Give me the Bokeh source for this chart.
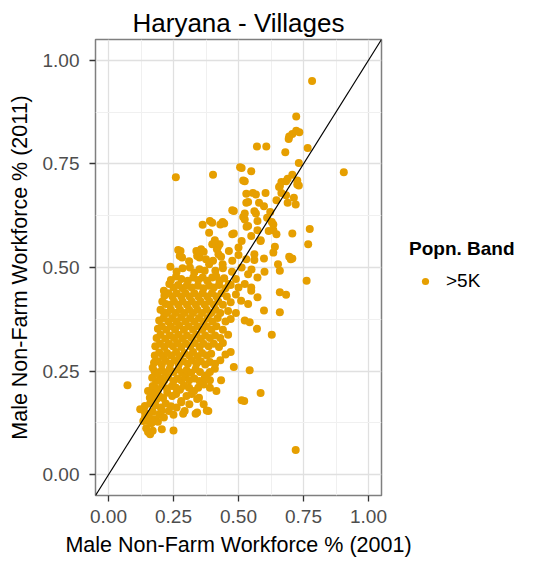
from bokeh.plotting import figure
from bokeh.models import (Range1d, FixedTicker, NumeralTickFormatter, Slope,
                          Legend, LegendItem, ColumnDataSource)
from bokeh.embed import file_html
from bokeh.resources import INLINE

title_text = "Haryana - Villages"
x_title = "Male Non-Farm Workforce % (2001)"
y_title = "Male Non-Farm Workforce % (2011)"
legend_title = "Popn. Band"
band_label = ">5K"
tick_values = [0.0, 0.25, 0.5, 0.75, 1.0]
minor_values = [0.125, 0.375, 0.625, 0.875]

# Male non-farm workforce share, 2001 (x) and 2011 (y), one entry per village
x2001 = [
    0.152, 0.170, 0.250, 0.160, 0.145, 0.205,
    0.134, 0.152, 0.177, 0.190, 0.165, 0.140,
    0.122, 0.195, 0.213, 0.232, 0.293, 0.341, 0.384, 0.287, 0.335, 0.378, 0.140, 0.170, 0.155, 0.205, 0.250,
    0.140, 0.201, 0.262, 0.311, 0.366, 0.160, 0.180, 0.220, 0.240, 0.280, 0.175,
    0.159, 0.195, 0.226, 0.280, 0.348, 0.341, 0.170, 0.185, 0.210, 0.245, 0.260, 0.300, 0.320, 0.165,
    0.152, 0.244, 0.207, 0.390, 0.415, 0.366, 0.329, 0.073, 0.180, 0.190, 0.225, 0.260, 0.275, 0.290, 0.310, 0.345, 0.170,
    0.183, 0.433, 0.200, 0.215, 0.230, 0.250, 0.265, 0.280, 0.295, 0.310, 0.330, 0.350, 0.370, 0.390, 0.168,
    0.177, 0.378, 0.409, 0.482, 0.543, 0.190, 0.205, 0.220, 0.235, 0.250, 0.268, 0.283, 0.300, 0.318, 0.335, 0.352, 0.170, 0.390,
    0.175, 0.190, 0.205, 0.220, 0.238, 0.255, 0.270, 0.287, 0.305, 0.320, 0.338, 0.355, 0.372, 0.390, 0.410, 0.430,
    0.178, 0.195, 0.210, 0.225, 0.242, 0.260, 0.275, 0.292, 0.310, 0.325, 0.342, 0.360, 0.378, 0.395, 0.450, 0.470,
    0.180, 0.198, 0.215, 0.232, 0.248, 0.265, 0.280, 0.298, 0.315, 0.332, 0.350, 0.365, 0.385, 0.405, 0.425, 0.440,
    0.185, 0.200, 0.218, 0.235, 0.252, 0.270, 0.285, 0.302, 0.320, 0.338, 0.355, 0.372, 0.390, 0.410, 0.430, 0.460,
    0.190, 0.205, 0.222, 0.240, 0.256, 0.272, 0.290, 0.308, 0.325, 0.342, 0.360, 0.378, 0.396, 0.415, 0.440, 0.571, 0.628,
    0.195, 0.212, 0.230, 0.246, 0.262, 0.280, 0.296, 0.314, 0.330, 0.348, 0.365, 0.382, 0.400, 0.420, 0.450, 0.470, 0.524, 0.543,
    0.213, 0.200, 0.225, 0.240, 0.258, 0.275, 0.292, 0.310, 0.325, 0.342, 0.360, 0.378, 0.395, 0.412, 0.430, 0.460, 0.490, 0.598, 0.659,
    0.220, 0.207, 0.235, 0.252, 0.268, 0.285, 0.302, 0.320, 0.336, 0.354, 0.370, 0.388, 0.405, 0.422, 0.440, 0.470, 0.537, 0.510,
    0.215, 0.230, 0.246, 0.262, 0.280, 0.296, 0.312, 0.330, 0.346, 0.362, 0.380, 0.398, 0.415, 0.435, 0.455, 0.490, 0.573, 0.549, 0.659, 0.683,
    0.213, 0.234, 0.250, 0.268, 0.301, 0.344, 0.387, 0.285, 0.320, 0.365, 0.405, 0.425, 0.450, 0.500, 0.549, 0.470, 0.524,
    0.326, 0.362, 0.399, 0.427, 0.463, 0.573, 0.537, 0.240, 0.260, 0.280, 0.305, 0.345, 0.380, 0.415, 0.445, 0.490, 0.762,
    0.238, 0.313, 0.350, 0.387, 0.411, 0.512, 0.659, 0.262, 0.285, 0.330, 0.370, 0.440, 0.475, 0.550, 0.600,
    0.402, 0.439, 0.476, 0.652, 0.701, 0.707, 0.598, 0.561, 0.561, 0.634, 0.274, 0.341, 0.283, 0.350, 0.433, 0.500, 0.530, 0.310, 0.375,
    0.277, 0.338, 0.356, 0.417, 0.423, 0.366, 0.421, 0.427, 0.463, 0.500, 0.399, 0.512, 0.585, 0.768, 0.640, 0.695, 0.268,
    0.476, 0.549, 0.616, 0.646, 0.707, 0.387, 0.409, 0.482, 0.634, 0.573, 0.585, 0.774, 0.531, 0.628,
    0.362, 0.399, 0.430, 0.390, 0.439, 0.445, 0.524, 0.537, 0.573, 0.610, 0.634, 0.518,
    0.482, 0.561, 0.530, 0.579, 0.598, 0.524, 0.567, 0.622, 0.476, 0.720, 0.689, 0.537, 0.646,
    0.555, 0.567, 0.604, 0.713, 0.665, 0.683, 0.530, 0.659, 0.726, 0.656, 0.732,
    0.683, 0.707, 0.524, 0.512, 0.549, 0.402, 0.259, 0.665, 0.689, 0.726, 0.518, 0.905, 0.506,
    0.732, 0.766, 0.680, 0.571, 0.607, 0.695, 0.707, 0.722, 0.734, 0.693, 0.722, 0.783,
    0.720, 0.522, 0.585, 0.512,
]
y2011 = [
    0.103, 0.106, 0.107, 0.098, 0.112, 0.110,
    0.130, 0.130, 0.134, 0.128, 0.124, 0.138,
    0.158, 0.146, 0.138, 0.154, 0.154, 0.150, 0.154, 0.147, 0.147, 0.155, 0.150, 0.152, 0.145, 0.155, 0.145,
    0.166, 0.162, 0.162, 0.170, 0.170, 0.172, 0.168, 0.172, 0.165, 0.175, 0.178,
    0.186, 0.190, 0.198, 0.178, 0.186, 0.183, 0.192, 0.182, 0.185, 0.190, 0.195, 0.190, 0.195, 0.200,
    0.202, 0.214, 0.218, 0.210, 0.202, 0.218, 0.202, 0.216, 0.210, 0.205, 0.208, 0.210, 0.205, 0.215, 0.210, 0.210, 0.214,
    0.226, 0.228, 0.232, 0.228, 0.236, 0.226, 0.232, 0.228, 0.236, 0.228, 0.232, 0.226, 0.234, 0.228, 0.234,
    0.250, 0.240, 0.256, 0.260, 0.252, 0.245, 0.252, 0.246, 0.255, 0.248, 0.254, 0.246, 0.252, 0.246, 0.255, 0.248, 0.258, 0.248,
    0.270, 0.274, 0.266, 0.275, 0.268, 0.276, 0.266, 0.274, 0.268, 0.276, 0.268, 0.274, 0.266, 0.272, 0.268, 0.276,
    0.288, 0.295, 0.286, 0.294, 0.288, 0.296, 0.286, 0.294, 0.288, 0.296, 0.286, 0.294, 0.288, 0.292, 0.290, 0.296,
    0.310, 0.316, 0.308, 0.316, 0.310, 0.318, 0.308, 0.316, 0.310, 0.318, 0.308, 0.316, 0.310, 0.316, 0.308, 0.318,
    0.330, 0.338, 0.328, 0.336, 0.330, 0.338, 0.328, 0.336, 0.330, 0.338, 0.328, 0.336, 0.330, 0.336, 0.330, 0.338,
    0.352, 0.358, 0.350, 0.358, 0.350, 0.360, 0.350, 0.358, 0.350, 0.358, 0.350, 0.358, 0.350, 0.358, 0.350, 0.352, 0.338,
    0.372, 0.378, 0.370, 0.378, 0.370, 0.380, 0.370, 0.378, 0.370, 0.378, 0.370, 0.378, 0.370, 0.378, 0.370, 0.376, 0.372, 0.368,
    0.392, 0.398, 0.390, 0.398, 0.390, 0.398, 0.390, 0.398, 0.390, 0.398, 0.390, 0.398, 0.390, 0.398, 0.390, 0.395, 0.390, 0.396, 0.392,
    0.412, 0.418, 0.410, 0.418, 0.410, 0.418, 0.410, 0.418, 0.410, 0.418, 0.410, 0.418, 0.410, 0.418, 0.410, 0.416, 0.412, 0.420,
    0.432, 0.438, 0.430, 0.438, 0.430, 0.438, 0.430, 0.438, 0.430, 0.438, 0.430, 0.438, 0.430, 0.438, 0.430, 0.435, 0.428, 0.444, 0.440, 0.434,
    0.444, 0.460, 0.452, 0.458, 0.456, 0.456, 0.456, 0.450, 0.452, 0.450, 0.452, 0.458, 0.450, 0.452, 0.452, 0.458, 0.460,
    0.476, 0.476, 0.476, 0.468, 0.460, 0.476, 0.484, 0.470, 0.478, 0.472, 0.468, 0.470, 0.468, 0.478, 0.474, 0.472, 0.468,
    0.502, 0.500, 0.496, 0.508, 0.492, 0.500, 0.492, 0.490, 0.498, 0.488, 0.492, 0.498, 0.490, 0.495, 0.490,
    0.516, 0.508, 0.516, 0.508, 0.520, 0.522, 0.522, 0.518, 0.532, 0.536, 0.528, 0.528, 0.524, 0.524, 0.526, 0.530, 0.520, 0.515, 0.520,
    0.540, 0.540, 0.544, 0.544, 0.532, 0.538, 0.550, 0.556, 0.540, 0.548, 0.556, 0.564, 0.564, 0.556, 0.550, 0.526, 0.542,
    0.580, 0.576, 0.588, 0.580, 0.582, 0.584, 0.566, 0.582, 0.590, 0.590, 0.566, 0.593, 0.598, 0.610,
    0.603, 0.608, 0.604, 0.612, 0.610, 0.606, 0.616, 0.600, 0.612, 0.620, 0.604, 0.622,
    0.636, 0.636, 0.656, 0.656, 0.648, 0.630, 0.630, 0.634, 0.638, 0.652, 0.656, 0.658, 0.662,
    0.680, 0.676, 0.680, 0.668, 0.680, 0.674, 0.678, 0.696, 0.700, 0.694, 0.698,
    0.708, 0.724, 0.708, 0.740, 0.732, 0.724, 0.718, 0.706, 0.714, 0.710, 0.710, 0.730, 0.742,
    0.752, 0.788, 0.778, 0.792, 0.792, 0.816, 0.822, 0.830, 0.826, 0.810, 0.864, 0.950,
    0.060, 0.178, 0.197, 0.180,
]
band = [band_label] * len(x2001)

FONT = "Liberation Sans"
POINT_COLOR = "#E69F00"

src = ColumnDataSource(data=dict(x=x2001, y=y2011, band=band))

p = figure(frame_width=286, frame_height=456,
           x_range=Range1d(-0.05, 1.05), y_range=Range1d(-0.05, 1.05),
           output_backend="svg", toolbar_location=None,
           min_border_left=95, min_border_right=145,
           min_border_top=39, min_border_bottom=60,
           title=title_text)

p.background_fill_color = "white"
p.border_fill_color = "white"
p.outline_line_color = "#7F7F7F"
p.outline_line_width = 1.5

p.title.align = "center"
p.title.text_font = FONT
p.title.text_font_size = "26px"
p.title.text_font_style = "normal"
p.title.text_color = "black"
p.title.standoff = 3

ticker = FixedTicker(ticks=tick_values, minor_ticks=minor_values)
for ax, lab in ((p.xaxis[0], x_title), (p.yaxis[0], y_title)):
    ax.ticker = ticker
    ax.formatter = NumeralTickFormatter(format="0.00")
    ax.axis_label = lab
    ax.axis_label_text_font = FONT
    ax.axis_label_text_font_size = "21.5px"
    ax.axis_label_text_font_style = "normal"
    ax.axis_label_text_color = "black"
    ax.major_label_text_font = FONT
    ax.major_label_text_font_size = "19px"
    ax.major_label_text_color = "#4D4D4D"
    ax.axis_line_color = None
    ax.major_tick_line_color = "#333333"
    ax.major_tick_line_width = 1.3
    ax.major_tick_out = 6
    ax.major_tick_in = 0
    ax.minor_tick_out = 0
    ax.minor_tick_in = 0

p.xaxis.major_label_standoff = 8
p.xaxis.axis_label_standoff = 7
p.yaxis.major_label_standoff = 10
p.yaxis.axis_label_standoff = 8

for g in (p.xgrid[0], p.ygrid[0]):
    g.ticker = ticker
    g.grid_line_color = "#E0E0E0"
    g.grid_line_width = 1.3
    g.minor_grid_line_color = "#F0F0F0"
    g.minor_grid_line_width = 1.0

r = p.scatter(x="x", y="y", source=src, size=8, fill_color=POINT_COLOR,
              line_color=None, fill_alpha=1.0)

p.add_layout(Slope(gradient=1, y_intercept=0, line_color="black", line_width=1.2))

legend = Legend(items=[LegendItem(label=band_label, renderers=[r])],
                title=legend_title, location=(28, 203))
legend.title_text_font = FONT
legend.title_text_font_size = "19px"
legend.title_text_font_style = "bold"
legend.title_text_color = "black"
legend.title_standoff = 10
legend.label_text_font = FONT
legend.label_text_font_size = "19px"
legend.label_text_color = "black"
legend.glyph_width = 32
legend.glyph_height = 18
legend.label_standoff = 5
legend.padding = 10
legend.margin = 0
legend.border_line_color = None
legend.background_fill_alpha = 0
p.add_layout(legend, "right")

open("out.html", "w").write(file_html(p, INLINE))
